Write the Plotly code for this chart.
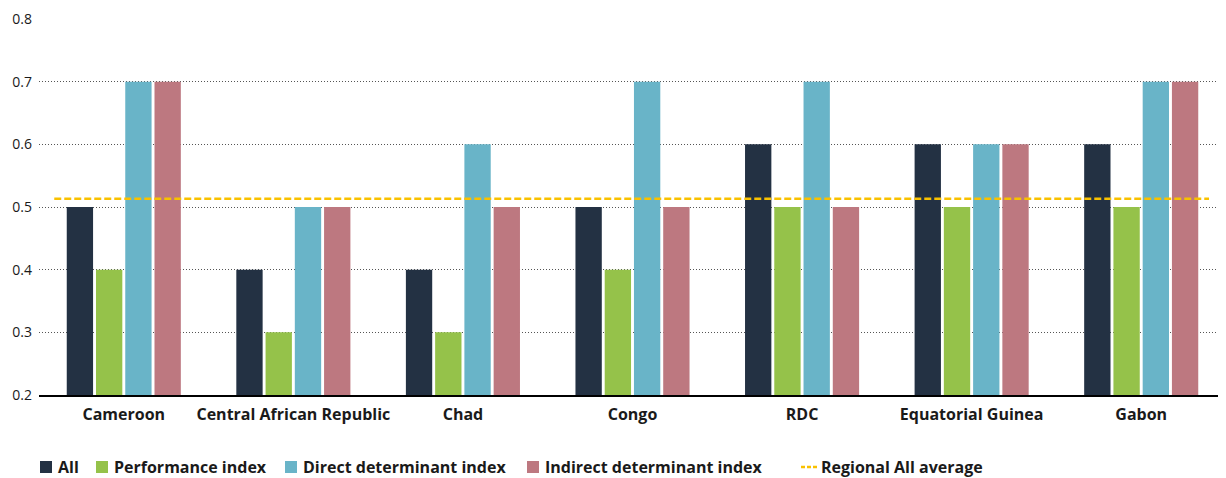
import plotly.graph_objects as go

countries = ["Cameroon", "Central African Republic", "Chad", "Congo", "RDC",
             "Equatorial Guinea", "Gabon"]
all_index = [0.5, 0.4, 0.4, 0.5, 0.6, 0.6, 0.6]
performance_index = [0.4, 0.3, 0.3, 0.4, 0.5, 0.5, 0.5]
direct_index = [0.7, 0.5, 0.6, 0.7, 0.7, 0.6, 0.7]
indirect_index = [0.7, 0.5, 0.5, 0.5, 0.5, 0.6, 0.7]
regional_all_average = 0.513

series = [
    ("All", all_index, "#233143"),
    ("Performance index", performance_index, "#95c24a"),
    ("Direct determinant index", direct_index, "#69b4c8"),
    ("Indirect determinant index", indirect_index, "#bd7880"),
]
AVG_NAME = "Regional All average"
AVG_COLOR = "#f9c100"

FONT = "Open Sans"
TEXT = "#1a1a1a"

# the page body has an 8px margin, so the figure is sized to fit inside it
W, H = 1218, 470
L, R, T, B = 31, 0, 11, 83
PLOT_W = W - L - R
PLOT_H = H - T - B


def px_x(px):
    """screen x (page pixels) -> paper x"""
    return (px - 8 - L) / PLOT_W


def px_y(py):
    """screen y (page pixels) -> paper y"""
    return (H - B - (py - 8)) / PLOT_H


fig = go.Figure()
for name, values, color in series:
    fig.add_trace(
        go.Bar(
            x=countries,
            y=values,
            base=0,
            name=name,
            marker=dict(color=color, line=dict(width=0)),
        )
    )

# average line on an overlaid numeric axis so it can run past the categories
fig.add_trace(
    go.Scatter(
        x=[-0.41, len(countries) - 0.6],
        y=[regional_all_average, regional_all_average],
        mode="lines",
        name=AVG_NAME,
        line=dict(color=AVG_COLOR, width=2.5, dash="7px,3px"),
        xaxis="x2",
    )
)

# hand-placed legend to match the original spacing
legend_items = [(name, color) for name, _, color in series]
legend_starts = [40, 96, 285, 527]
legend_y = 467
shapes = []
annotations = []
for (name, color), x0 in zip(legend_items, legend_starts):
    shapes.append(dict(
        type="rect", xref="paper", yref="paper",
        x0=px_x(x0), x1=px_x(x0 + 12),
        y0=px_y(legend_y + 6), y1=px_y(legend_y - 6),
        fillcolor=color, line=dict(width=0),
    ))
    annotations.append(dict(
        text=name, xref="paper", yref="paper",
        x=px_x(x0 + 16), y=px_y(legend_y), xanchor="left", yanchor="middle",
        showarrow=False, font=dict(family=FONT, size=16, color=TEXT, weight="bold"),
    ))
shapes.append(dict(
    type="line", xref="paper", yref="paper",
    x0=px_x(801), x1=px_x(817), y0=px_y(legend_y), y1=px_y(legend_y),
    line=dict(color=AVG_COLOR, width=2.5, dash="4px,2px"),
))
annotations.append(dict(
    text=AVG_NAME, xref="paper", yref="paper",
    x=px_x(819), y=px_y(legend_y), xanchor="left", yanchor="middle",
    showarrow=False, font=dict(family=FONT, size=16, color=TEXT, weight="bold"),
))

fig.update_layout(
    width=W,
    height=H,
    margin=dict(l=L, r=R, t=T, b=B),
    paper_bgcolor="white",
    plot_bgcolor="white",
    barmode="group",
    bargap=0.31,
    bargroupgap=0.1,
    font=dict(family=FONT, color=TEXT),
    showlegend=False,
    shapes=shapes,
    annotations=annotations,
    xaxis=dict(
        showgrid=False,
        showline=True,
        linecolor="#000000",
        linewidth=1.5,
        ticks="",
        ticklabelstandoff=4,
        tickfont=dict(family=FONT, size=16, color=TEXT, weight="bold"),
    ),
    xaxis2=dict(
        overlaying="x",
        range=[-0.5, len(countries) - 0.5],
        visible=False,
    ),
    yaxis=dict(
        range=[0.2, 0.8],
        dtick=0.1,
        tickformat=".1f",
        showgrid=True,
        gridcolor="#555555",
        griddash="1px,2px",
        gridwidth=1,
        zeroline=False,
        showline=False,
        ticks="",
        ticklabelstandoff=6,
        tickfont=dict(family=FONT, size=14, color=TEXT),
    ),
)

fig.write_html("out.html")
